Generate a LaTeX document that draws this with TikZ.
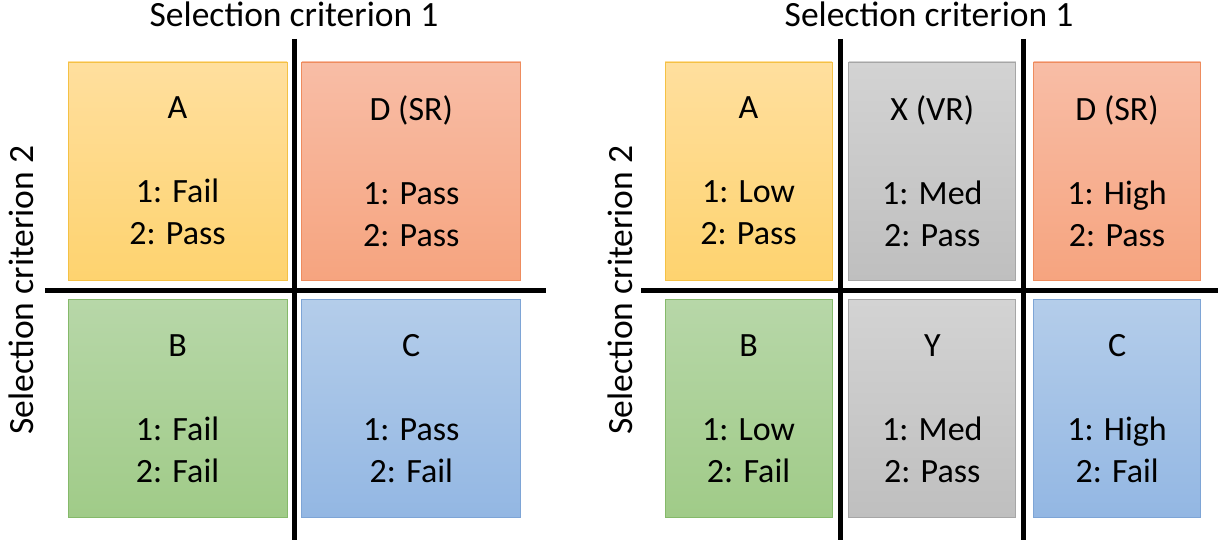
\documentclass[tikz,border=0pt]{standalone}
\usepackage{fontspec}
\setmainfont{Carlito}
\usetikzlibrary{positioning}
\definecolor{goldtop}{HTML}{FFDF9E}
\definecolor{goldbot}{HTML}{FED36F}
\definecolor{goldline}{HTML}{F4C145}
\definecolor{redtop}{HTML}{F8BDA6}
\definecolor{redbot}{HTML}{F6A47F}
\definecolor{redline}{HTML}{EE8C5E}
\definecolor{greentop}{HTML}{B7D7A8}
\definecolor{greenbot}{HTML}{A0CB88}
\definecolor{greenline}{HTML}{85B96A}
\definecolor{bluetop}{HTML}{B4CDEA}
\definecolor{bluebot}{HTML}{93B7E3}
\definecolor{blueline}{HTML}{7EA5D6}
\definecolor{graytop}{HTML}{D3D3D3}
\definecolor{graybot}{HTML}{BFBFBF}
\definecolor{grayline}{HTML}{A6A6A6}
\begin{document}
\begin{tikzpicture}[x=1pt,y=-1pt,line width=0.8pt,
  cell/.style={rectangle,draw,inner sep=0pt,align=center,minimum height=218pt,font=\fontsize{34}{42}\selectfont},
  wide/.style={cell,minimum width=219pt},
  narrow/.style={cell,minimum width=167pt},
  gold/.style={draw=goldline,top color=goldtop,bottom color=goldbot},
  red/.style={draw=redline,top color=redtop,bottom color=redbot},
  green/.style={draw=greenline,top color=greentop,bottom color=greenbot},
  blue/.style={draw=blueline,top color=bluetop,bottom color=bluebot},
  gray/.style={draw=grayline,top color=graytop,bottom color=graybot},
  axis/.style={line width=5pt,black},
  crit/.style={anchor=base,inner sep=0pt,font=\fontsize{35.5}{42}\selectfont}]
\useasboundingbox (0,0) rectangle (1218,540);
% left panel
\node [wide,gold] (lA) at (177.5,171) {A\\ \\1: Fail\\2: Pass};
\node [wide,red] (lD) [right=14pt of lA] {D (SR)\\ \\1: Pass\\2: Pass};
\node [wide,green] (lB) [below=19pt of lA] {B\\ \\1: Fail\\2: Fail};
\node [wide,blue] (lC) [right=14pt of lB] {C\\ \\1: Pass\\2: Fail};
\coordinate (lvt) at (294,39);
\coordinate (lvb) at (294,540);
\coordinate (lhl) at (45,290);
\coordinate (lhr) at (546,290);
\draw [axis] (lvt) -- (lvb);
\draw [axis] (lhl) -- (lhr);
\node [crit] (lt1) at (294,27) {Selection criterion 1};
\node [crit,rotate=90] (lt2) at (33,290) {Selection criterion 2};
% right panel
\node [narrow,gold] (rA) at (748.5,171) {A\\ \\1: Low\\2: Pass};
\node [narrow,gray] (rX) [right=16pt of rA] {X (VR)\\ \\1: Med\\2: Pass};
\node [narrow,red] (rD) [right=17pt of rX] {D (SR)\\ \\1: High\\2: Pass};
\node [narrow,green] (rB) [below=19pt of rA] {B\\ \\1: Low\\2: Fail};
\node [narrow,gray] (rY) [right=16pt of rB] {Y\\ \\1: Med\\2: Pass};
\node [narrow,blue] (rC) [right=17pt of rY] {C\\ \\1: High\\2: Fail};
\coordinate (rv1t) at (840,39);
\coordinate (rv1b) at (840,540);
\coordinate (rv2t) at (1023,39);
\coordinate (rv2b) at (1023,540);
\coordinate (rhl) at (641,290);
\coordinate (rhr) at (1218,290);
\draw [axis] (rv1t) -- (rv1b);
\draw [axis] (rv2t) -- (rv2b);
\draw [axis] (rhl) -- (rhr);
\node [crit] (rt1) at (929,27) {Selection criterion 1};
\node [crit,rotate=90] (rt2) at (632,290) {Selection criterion 2};
\end{tikzpicture}
\end{document}
